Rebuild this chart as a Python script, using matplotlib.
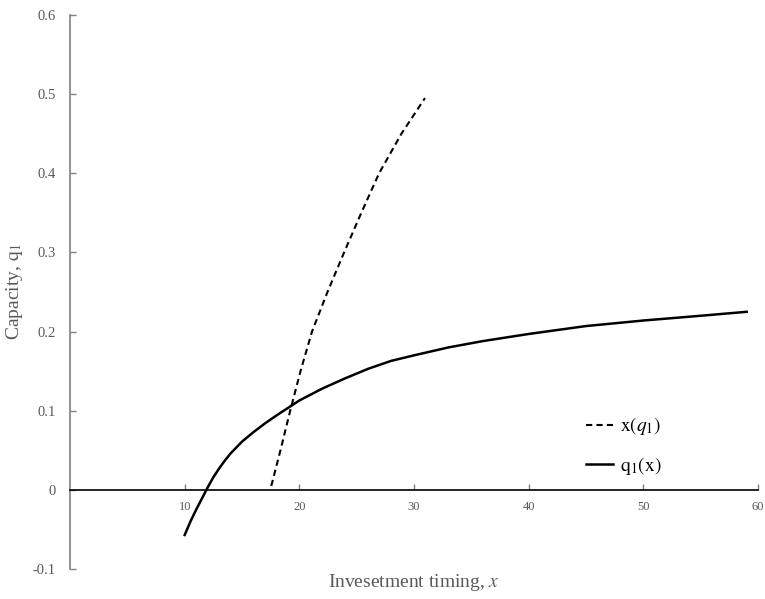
import matplotlib
matplotlib.use("Agg")
import matplotlib.pyplot as plt
from matplotlib.lines import Line2D

plt.rcParams['font.family'] = ['Liberation Serif', 'DejaVu Serif']
plt.rcParams['mathtext.fontset'] = 'stix'

# q1(x) curve
q1_x = [10, 10.5, 11, 11.5, 12, 12.5, 13, 13.5, 14, 15, 16, 17, 18, 20, 22, 24, 26, 28, 30,
        33, 36, 40, 45, 50, 55, 59]
q1_y = [-0.057, -0.040, -0.025, -0.011, 0.003, 0.016, 0.027, 0.037, 0.046, 0.061, 0.073,
        0.084, 0.094, 0.113, 0.128, 0.141, 0.153, 0.163, 0.170, 0.180, 0.188, 0.197,
        0.207, 0.214, 0.220, 0.225]

# x(q1) curve
xq_x = [17.55, 18.35, 19.2, 20.1, 21.1, 22.45, 23.9, 25.4, 26.95, 28.9, 30.95]
xq_y = [0.005, 0.05, 0.10, 0.15, 0.20, 0.25, 0.30, 0.35, 0.40, 0.45, 0.495]

x_ticks = [10, 20, 30, 40, 50, 60]
y_ticks = [-0.1, 0, 0.1, 0.2, 0.3, 0.4, 0.5, 0.6]
y_ticklabels = ['-0.1', '0', '0.1', '0.2', '0.3', '0.4', '0.5', '0.6']

gray = '#595959'

fig = plt.figure(figsize=(7.65, 5.99), dpi=100)
ax = fig.add_axes([0.0915, 0.050, 0.8995, 0.925])

ax.plot(xq_x, xq_y, color='black', lw=1.5, linestyle=(0, (3, 2)))
ax.plot(q1_x, q1_y, color='black', lw=1.8)

ax.set_xlim(0, 60)
ax.set_ylim(-0.1, 0.6)

ax.spines['top'].set_visible(False)
ax.spines['right'].set_visible(False)
ax.spines['left'].set_color('#808080')
ax.spines['left'].set_linewidth(1.2)
ax.spines['bottom'].set_position(('data', 0))
ax.spines['bottom'].set_color('black')
ax.spines['bottom'].set_linewidth(1.2)

ax.set_xticks(x_ticks)
ax.set_xticklabels([str(t) for t in x_ticks])
ax.set_yticks(y_ticks)
ax.set_yticklabels(y_ticklabels)

ax.tick_params(axis='x', direction='in', length=4, width=1, color='#808080',
               labelsize=9, labelcolor=gray, pad=8)
ax.tick_params(axis='y', direction='in', length=4, width=1, color='#808080',
               labelsize=10.5, labelcolor=gray, pad=10)

ax.set_xlabel(r'Invesetment timing, $x$', fontsize=14, color=gray)
ax.set_ylabel(r'Capacity, $\mathrm{q_1}$', fontsize=14, color=gray, labelpad=6)
ax.xaxis.set_label_coords(0.5, -0.005)
ax.xaxis.label.set_va('top')

handles = [Line2D([], [], color='black', lw=1.5, linestyle=(0, (3, 2))),
           Line2D([], [], color='black', lw=1.8)]
labels = [r'$\mathrm{x}(q_1)$', r'$\mathrm{q_1(x)}$']
ax.legend(handles, labels, loc='center left', bbox_to_anchor=(0.725, 0.222),
          frameon=False, fontsize=14, handlelength=1.35, handletextpad=0.36,
          labelspacing=0.88)

fig.savefig('out.png', dpi=100)
